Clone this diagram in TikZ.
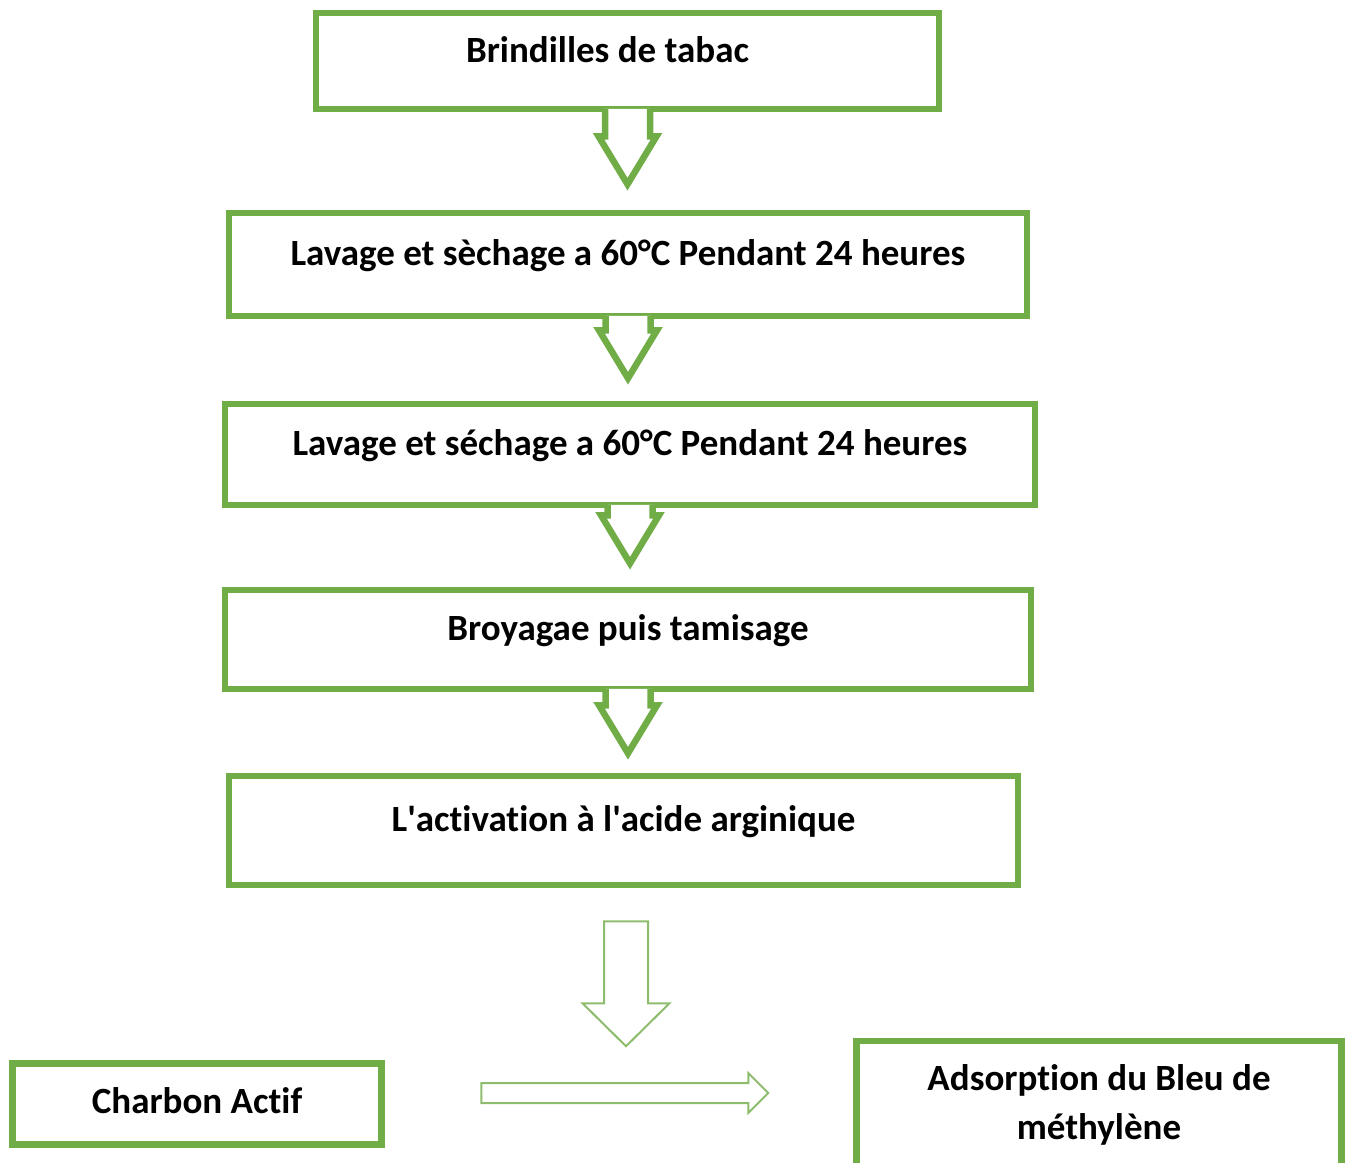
\documentclass[tikz,border=0pt]{standalone}
\usepackage{fontspec}
\setmainfont[Ligatures=NoCommon]{Carlito}
\usetikzlibrary{calc}
\definecolor{leaf}{RGB}{112,173,71}
\tikzset{ frame/.style = { rectangle
                         , draw = leaf
                         , line width = 6.5pt
                         , fill = white
                         , inner sep = 0pt
                         },
            box/.style = { frame
                         , text height = 26pt
                         , text depth = 24pt
                         },
            arr/.style = { draw = leaf
                         , line width = 6.5pt
                         , line join = miter
                         },
         hollow/.style = { draw = leaf!80
                         , line width = 2pt
                         , fill = white
                         }
        }

\begin{document}
\begin{tikzpicture}[x=1pt, y=-1pt, font=\fontsize{37}{49}\selectfont\bfseries]
\useasboundingbox (0,0) rectangle (1349,1162);
% main chain
\node[box, minimum width=623, minimum height=96]  (b1) at (627.5,61)  {Brindilles de tabac\hspace*{40pt}};
\node[box, minimum width=798, minimum height=103] (b2) at (628,264.5) {Lavage et sèchage a 60°C Pendant 24 heures};
\node[box, minimum width=810, minimum height=101] (b3) at (630,454.5) {Lavage et séchage a 60°C Pendant 24 heures};
\node[box, minimum width=806, minimum height=99]  (b4) at (628,639.5) {Broyagae puis tamisage};
\node[box, minimum width=789, minimum height=109] (b5) at (623.5,830.5) {L\textquotesingle activation à l\textquotesingle acide arginique};
% bottom row
\node[box, minimum width=369, minimum height=81, text depth=7pt] (ca) at (197,1104) {Charbon Actif};
\node[frame, minimum width=485, anchor=north, align=center, inner ysep=24pt] (mb) at (1099,1037.5)
    {Adsorption du Bleu de\\méthylène};
% thick arrows under the boxes
\begin{scope}[shift={(b1.south)}]
  \path[fill=white] (-22.5,-3.5) -- (-22.5,24) -- (-29,24) -- (0,72) -- (29,24) -- (22.5,24) -- (22.5,-3.5) -- cycle;
  \draw[arr] (-22.5,-3.25) -- (-22.5,24) -- (-29,24) -- (0,72) -- (29,24) -- (22.5,24) -- (22.5,-3.25);
\end{scope}
\begin{scope}[shift={(b2.south)}]
  \path[fill=white] (-22.5,-3.5) -- (-22.5,11) -- (-29,11) -- (0,59) -- (29,11) -- (22.5,11) -- (22.5,-3.5) -- cycle;
  \draw[arr] (-22.5,-3.25) -- (-22.5,11) -- (-29,11) -- (0,59) -- (29,11) -- (22.5,11) -- (22.5,-3.25);
\end{scope}
\begin{scope}[shift={(b3.south)}]
  \path[fill=white] (-22.5,-3.5) -- (-22.5,7) -- (-29,7) -- (0,55) -- (29,7) -- (22.5,7) -- (22.5,-3.5) -- cycle;
  \draw[arr] (-22.5,-3.25) -- (-22.5,7) -- (-29,7) -- (0,55) -- (29,7) -- (22.5,7) -- (22.5,-3.25);
\end{scope}
\begin{scope}[shift={(b4.south)}]
  \path[fill=white] (-22.5,-3.5) -- (-22.5,13) -- (-29,13) -- (0,61) -- (29,13) -- (22.5,13) -- (22.5,-3.5) -- cycle;
  \draw[arr] (-22.5,-3.25) -- (-22.5,13) -- (-29,13) -- (0,61) -- (29,13) -- (22.5,13) -- (22.5,-3.25);
\end{scope}
% hollow arrows
\begin{scope}[shift={($(b5.south)+(2.5,0)$)}]
  \draw[hollow] (-22,33) -- (-22,115) -- (-43.5,115) -- (0,158) -- (43.5,115) -- (22,115) -- (22,33) -- cycle;
\end{scope}
\begin{scope}[shift={($(ca.east)+(96.5,-11)$)}]
  \draw[hollow] (0,-10) -- (267,-10) -- (267,-20) -- (287,0) -- (267,20) -- (267,10) -- (0,10) -- cycle;
\end{scope}
\end{tikzpicture}
\end{document}
